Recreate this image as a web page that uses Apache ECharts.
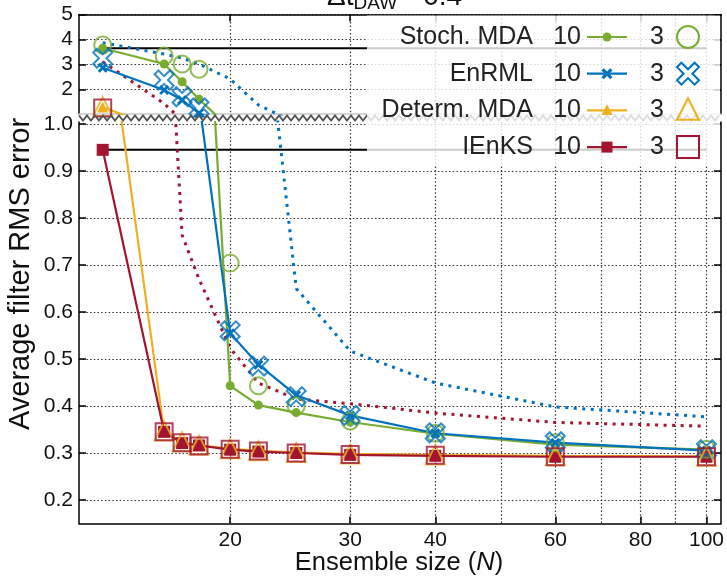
<!DOCTYPE html>
<html>
<head>
<meta charset="utf-8">
<script src="https://cdn.jsdelivr.net/npm/echarts@6/dist/echarts.min.js"></script>
<style>
  html, body { margin: 0; padding: 0; background: #fff; }
  #chart { width: 727px; height: 578px; }
</style>
</head>
<body>
<div id="chart"></div>
<script>
// ensemble sizes
const ensN = [13, 16, 17, 18, 20, 22, 25, 30, 40, 60, 100];

// filter RMS error, DAW = 10 (lines) and 3 (open markers)
const stoch10  = [3.65, 3.02, 2.31, 1.61, 0.443, 0.402, 0.386, 0.366, 0.341, 0.318, 0.307];
const stoch3   = [3.78, 3.34, 3.02, 2.81, 0.704, 0.443, 0.400, 0.368, 0.342, 0.322, 0.308];
const enrml10  = [2.87, 1.98, 1.58, 1.05, 0.555, 0.488, 0.423, 0.380, 0.342, 0.322, 0.305];
const enrml3   = [3.25, 2.38, 1.71, 1.26, 0.560, 0.485, 0.420, 0.380, 0.343, 0.324, 0.307];
const determ10 = [1.30, 0.345, 0.323, 0.317, 0.309, 0.305, 0.301, 0.298, 0.296, 0.294, 0.293];
const determ3  = [1.32, 0.347, 0.324, 0.317, 0.309, 0.305, 0.301, 0.298, 0.296, 0.294, 0.293];
const ienks10  = [0.945, 0.345, 0.321, 0.316, 0.307, 0.303, 0.300, 0.296, 0.294, 0.292, 0.292];
const ienks3   = [1.26, 0.345, 0.322, 0.315, 0.308, 0.304, 0.300, 0.297, 0.295, 0.292, 0.292];

// dotted reference curves
const dotBlue = [3.87, 3.42, 3.26, 3.02, 2.42, 1.38, 0.650, 0.517, 0.449, 0.398, 0.377];
const dotRed  = [3.11, 1.44, 0.764, 0.670, 0.523, 0.449, 0.415, 0.405, 0.385, 0.365, 0.357];

// horizontal reference levels (value at N = 13)
const hLevels = [3.65, 0.945];
const hSpan = [13, 100];

// tick labels
const xLabelTicks = [20, 30, 40, 60, 80, 100];
const xGridTicks = [20, 30, 40, 50, 60, 70, 80, 90, 100];
const yTopTicks = [2, 3, 4, 5];
const yLowTicks = [0.2, 0.3, 0.4, 0.5, 0.6, 0.7, 0.8, 0.9, 1.0];

const cGreen = '#77AC30', cBlue = '#0072BD', cOrange = '#EDB120', cRed = '#A2142F';
const FONT = '"Liberation Sans", Arial, sans-serif';
const xShape = 'path://M2,0L5,3L8,0L10,2L7,5L10,8L8,10L5,7L2,10L0,8L3,5L0,2Z';

const chart = echarts.init(document.getElementById('chart'), null, {renderer: 'canvas'});

const pairs = (ys) => ensN.map((n, i) => [n, ys[i]]);

const gridLine = {show: true, lineStyle: {color: '#333', width: 1.2, type: [1.5, 2.2]}};

function xAxes(gridIndex, showLabels) {
  return [
    { // main axis with labels / ticks
      gridIndex, type: 'log', logBase: 10, min: 12, max: 105,
      position: 'bottom',
      axisLine: {show: true, onZero: false, lineStyle: {color: showLabels ? '#000' : '#c8c8c8', width: 1.5}},
      axisTick: {show: showLabels, inside: true, length: 7, customValues: xLabelTicks, lineStyle: {color: '#000', width: 1.5}},
      axisLabel: {show: showLabels, customValues: xLabelTicks, margin: 6, color: '#111', fontSize: 21, fontFamily: FONT},
      splitLine: {show: false}
    },
    { // grid lines
      gridIndex, type: 'log', logBase: 10, min: 12, max: 105,
      axisLine: {show: false}, axisLabel: {show: false},
      axisTick: {show: false, customValues: xGridTicks},
      splitLine: gridLine
    },
    { // top border
      gridIndex, type: 'log', logBase: 10, min: 12, max: 105, position: 'top',
      axisLine: {show: !showLabels, lineStyle: {color: '#000', width: 1.5}},
      axisTick: {show: !showLabels, inside: true, length: 7, customValues: xLabelTicks, lineStyle: {color: '#000', width: 1.5}},
      axisLabel: {show: false}, splitLine: {show: false}
    }
  ];
}

function yAxes(gridIndex, min, max, ticks, fmt) {
  return [
    {
      gridIndex, type: 'value', min, max, position: 'left',
      axisLine: {show: true, lineStyle: {color: '#000', width: 1.5}},
      axisTick: {show: true, inside: true, length: 7, customValues: ticks, lineStyle: {color: '#000', width: 1.5}},
      axisLabel: {customValues: ticks, margin: 6, color: '#111', fontSize: 21, fontFamily: FONT, formatter: fmt},
      splitLine: gridLine
    },
    {
      gridIndex, type: 'value', min, max, position: 'right',
      axisLine: {show: true, lineStyle: {color: '#000', width: 1.5}},
      axisTick: {show: true, inside: true, length: 7, customValues: ticks, lineStyle: {color: '#000', width: 1.5}},
      axisLabel: {show: false}, splitLine: {show: false}
    }
  ];
}

// series: each one is drawn in both panels of the broken axis
const lineDefs = [
  {name: 'dotRed', data: dotRed, color: cRed, dotted: true},
  {name: 'dotBlue', data: dotBlue, color: cBlue, dotted: true},
  {name: 'level0', level: hLevels[0]},
  {name: 'level1', level: hLevels[1]},
  {name: 'Stoch. MDA 10', data: stoch10, color: cGreen, symbol: 'circle', size: 9},
  {name: 'Stoch. MDA 3', data: stoch3, color: cGreen, symbol: 'circle', size: 17, open: true},
  {name: 'EnRML 10', data: enrml10, color: cBlue, symbol: xShape, size: 10},
  {name: 'EnRML 3', data: enrml3, color: cBlue, symbol: xShape, size: 19, open: true},
  {name: 'Determ. MDA 10', data: determ10, color: cOrange, symbol: 'triangle', size: 11},
  {name: 'Determ. MDA 3', data: determ3, color: cOrange, symbol: 'triangle', size: 19, open: true},
  {name: 'IEnKS 10', data: ienks10, color: cRed, symbol: 'rect', size: 12},
  {name: 'IEnKS 3', data: ienks3, color: cRed, symbol: 'rect', size: 17, open: true}
];

const series = [];
[0, 1].forEach((g) => {
  const xi = g * 3, yi = g * 2;
  lineDefs.forEach((d) => {
    if (d.level !== undefined) {
      series.push({
        type: 'line', name: d.name, xAxisIndex: xi, yAxisIndex: yi,
        data: hSpan.map((n) => [n, d.level]), symbol: 'none', silent: true,
        lineStyle: {color: '#000', width: 2}, z: 2
      });
    } else if (d.dotted) {
      series.push({
        type: 'line', name: d.name, xAxisIndex: xi, yAxisIndex: yi,
        data: pairs(d.data), symbol: 'none',
        lineStyle: {color: d.color, width: 3, type: [3, 5.5], cap: 'butt'}, z: 3
      });
    } else if (d.open) {
      series.push({
        type: 'scatter', name: d.name, xAxisIndex: xi, yAxisIndex: yi,
        data: pairs(d.data), symbol: d.symbol, symbolSize: d.size,
        itemStyle: {color: 'rgba(255,255,255,0)', borderColor: d.color, borderWidth: 2}, z: 5
      });
    } else {
      series.push({
        type: 'line', name: d.name, xAxisIndex: xi, yAxisIndex: yi,
        data: pairs(d.data), symbol: d.symbol, symbolSize: d.size, showAllSymbol: true,
        lineStyle: {color: d.color, width: 2.2}, itemStyle: {color: d.color}, z: 4
      });
    }
  });
});

// break zig-zag
const zig = [];
for (let x = 79, k = 0; x <= 721; x += 4, k++) zig.push([x, 118 + (k % 2 ? 2.5 : -2.5)]);

// legend drawn by hand: name, "10" line sample, "3" open marker
const legendRows = [
  {name: 'Stoch. MDA', color: cGreen, small: 'circle', big: 'circle'},
  {name: 'EnRML', color: cBlue, small: 'x', big: 'x'},
  {name: 'Determ. MDA', color: cOrange, small: 'triangle', big: 'triangle'},
  {name: 'IEnKS', color: cRed, small: 'rect', big: 'rect'}
];

function markerGraphic(kind, cx, cy, r, color, open) {
  const style = open ? {fill: 'none', stroke: color, lineWidth: 2} : {fill: color};
  if (kind === 'circle') return {type: 'circle', shape: {cx, cy, r}, style};
  if (kind === 'rect') return {type: 'rect', shape: {x: cx - r, y: cy - r, width: 2 * r, height: 2 * r}, style};
  if (kind === 'triangle') return {type: 'polygon', shape: {points: [[cx, cy - r * 1.1], [cx + r, cy + r * 0.85], [cx - r, cy + r * 0.85]]}, style};
  const p = [[2,0],[5,3],[8,0],[10,2],[7,5],[10,8],[8,10],[5,7],[2,10],[0,8],[3,5],[0,2]];
  return {type: 'polygon', shape: {points: p.map(([a, b]) => [cx - r + a * r / 5, cy - r + b * r / 5])}, style};
}

const legendEls = [{
  type: 'rect', shape: {x: 367, y: 15.5, width: 353, height: 150},
  style: {fill: 'rgba(255,255,255,0.8)'}, z: 10
}];
legendRows.forEach((row, i) => {
  const cy = 37 + i * 36.7;
  legendEls.push({type: 'text', x: 533, y: cy, z: 11,
    style: {text: row.name, font: '25px ' + FONT, fill: '#222', align: 'right', verticalAlign: 'middle'}});
  legendEls.push({type: 'text', x: 581, y: cy, z: 11,
    style: {text: '10', font: '25px ' + FONT, fill: '#222', align: 'right', verticalAlign: 'middle'}});
  legendEls.push({type: 'line', shape: {x1: 587, y1: cy, x2: 627, y2: cy}, z: 11,
    style: {stroke: row.color, lineWidth: 2.2}});
  legendEls.push(Object.assign(markerGraphic(row.small, 607, cy, row.small === 'circle' ? 4.5 : 5.5, row.color, false), {z: 12}));
  legendEls.push({type: 'text', x: 664, y: cy, z: 11,
    style: {text: '3', font: '25px ' + FONT, fill: '#222', align: 'right', verticalAlign: 'middle'}});
  legendEls.push(Object.assign(markerGraphic(row.big, 688, cy, 11, row.color, true), {z: 12}));
});

const option = {
  animation: false,
  backgroundColor: '#fff',
  grid: [
    {left: 79, right: 6, top: 14.5, height: 99.5},
    {left: 79, right: 6, top: 122, bottom: 54.5}
  ],
  xAxis: [].concat(xAxes(0, false), xAxes(1, true)),
  yAxis: [].concat(
    yAxes(0, 1.02, 5, yTopTicks, (v) => String(Math.round(v))),
    yAxes(1, 0.15, 1.00426, yLowTicks, (v) => v.toFixed(1))
  ),
  series,
  graphic: [
    {type: 'polyline', shape: {points: zig}, style: {stroke: '#555', lineWidth: 2, fill: null}, z: 9},
    {type: 'text', x: 327, y: 11.5, z: 11,
      style: {text: 'Δt', font: '28px ' + FONT, fill: '#111', verticalAlign: 'bottom'}},
    {type: 'text', x: 353.5, y: 13.3, z: 11,
      style: {text: 'DAW', font: '19px ' + FONT, fill: '#111', verticalAlign: 'bottom'}},
    {type: 'text', x: 399, y: 11.5, z: 11,
      style: {text: '= 0.4', font: '28px ' + FONT, fill: '#111', verticalAlign: 'bottom'}},
    {type: 'text', x: 21, y: 274, rotation: Math.PI / 2, z: 11,
      style: {text: 'Average filter RMS error', font: '29px ' + FONT, fill: '#111', align: 'center', verticalAlign: 'middle'}},
    {type: 'text', x: 399, y: 563, z: 11,
      style: {
        text: '{a|Ensemble size (}{i|N}{a|)}', align: 'center', verticalAlign: 'middle',
        rich: {
          a: {font: '25.5px ' + FONT, fill: '#111'},
          i: {font: 'italic 25.5px ' + FONT, fill: '#111'}
        }
      }}
  ].concat(legendEls)
};

// lower panel top: no border line across the break
option.xAxis[5].axisLine.show = false;
option.xAxis[5].axisTick.show = false;

chart.setOption(option);
</script>
</body>
</html>
